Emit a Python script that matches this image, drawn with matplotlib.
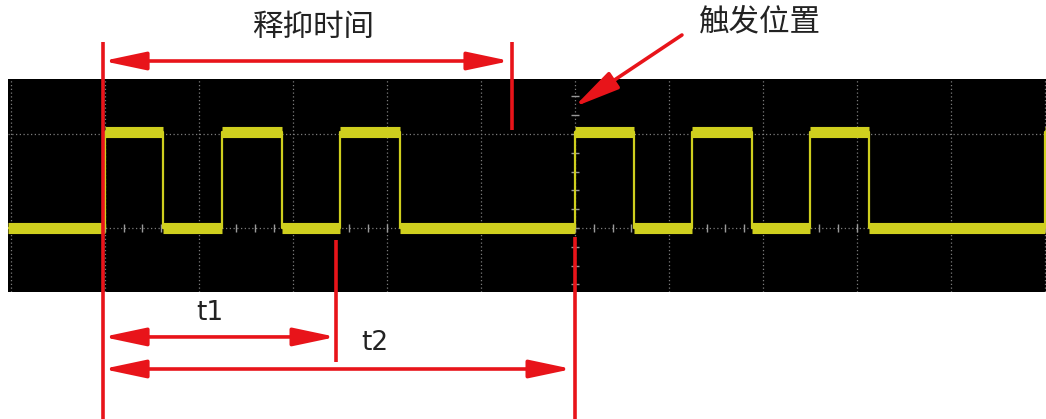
import numpy as np
import matplotlib
matplotlib.use("Agg")
import matplotlib.pyplot as plt
import matplotlib.transforms as mtransforms
from matplotlib.patches import FancyArrowPatch

plt.rcParams['font.family'] = ['Noto Sans CJK SC', 'DejaVu Sans']

# signal edges, in horizontal divisions (trigger at 0)
rise_t = [-5.0, -3.75, -2.5, 0.0, 1.25, 2.5, 5.0]
fall_t = [-4.38, -3.12, -1.86, 0.63, 1.88, 3.13]
low_level = 0.0
high_level = 1.02
t_start, t_end = -6.03, 5.01

# annotation positions (divisions)
holdoff_start = -5.02
holdoff_end = -0.67
trigger_t = 0.0
t1_end = -2.54
t2_end = trigger_t

YELLOW = '#cfcf1e'
RED = '#e8141a'
GRID = '#7c7c7c'
TEXT = '#222222'

fig = plt.figure(figsize=(10.46, 4.19), dpi=100)
ax = fig.add_axes([8 / 1046, 127 / 419, 1038 / 1046, 213 / 419])
ax.set_facecolor('black')
for s in ax.spines.values():
    s.set_visible(False)
ax.set_xticks([])
ax.set_yticks([])
ax.set_xlim(t_start, t_end)
ax.set_ylim(-0.681, 1.585)

# grid
for gx in range(-6, 6):
    ax.axvline(gx, color=GRID, lw=0.9, ls=(0, (1, 2)), zorder=1)
for gy in [0, 1]:
    ax.axhline(gy, color=GRID, lw=0.9, ls=(0, (1, 2)), zorder=1)
# centre axis ticks
minor = np.arange(-6, 5.01, 0.2)
ax.vlines(minor, -0.04, 0.04, color='#9a9a9a', lw=1, zorder=1)
vminor = np.arange(-0.6, 1.6, 0.2)
ax.hlines(vminor, -0.04, 0.04, color='#9a9a9a', lw=1, zorder=1)

# build the step signal
edges = sorted([(t, high_level) for t in rise_t] + [(t, low_level) for t in fall_t])
xs, ys = [t_start], [low_level]
seg_start, seg_level = t_start, low_level
seg_x0, seg_x1, seg_y = [], [], []
for t, lv in edges:
    xs += [t, t]
    ys += [seg_level, lv]
    seg_x0.append(seg_start)
    seg_x1.append(t)
    seg_y.append(seg_level)
    seg_start, seg_level = t, lv
xs.append(t_end)
ys.append(seg_level)
seg_x0.append(seg_start)
seg_x1.append(t_end)
seg_y.append(seg_level)

ax.plot(xs, ys, color=YELLOW, lw=1.6, zorder=3)
ax.hlines(seg_y, seg_x0, seg_x1, color=YELLOW, lw=8, capstyle='butt', zorder=3)

# red annotations
trans = mtransforms.blended_transform_factory(ax.transData, ax.transAxes)


def vline(x, y0, y1):
    ax.plot([x, x], [y0, y1], color=RED, lw=2.6, transform=trans,
            clip_on=False, solid_capstyle='butt', zorder=5)


def arrow(p0, p1, style):
    a = FancyArrowPatch(p0, p1, transform=trans, arrowstyle=style,
                        color=RED, lw=2.6, shrinkA=0, shrinkB=0,
                        clip_on=False, zorder=6)
    ax.add_patch(a)


head = 'head_length=26,head_width=5.5'
vline(holdoff_start, 1.174, -0.6)
vline(holdoff_end, 1.174, 0.76)
vline(trigger_t, 0.258, -0.6)
vline(t1_end, 0.244, -0.329)

arrow((holdoff_start, 1.0845), (holdoff_end - 0.02, 1.0845), '<|-|>,' + head)
arrow((holdoff_start, -0.211), (t1_end, -0.211), '<|-|>,' + head)
arrow((holdoff_start, -0.3615), (t2_end - 0.03, -0.3615), '<|-|>,' + head)
arrow((1.138, 1.2066), (trigger_t - 0.01, 0.8685), '-|>,head_length=28,head_width=6')

ax.text(-2.79, 1.244, '释抑时间', transform=trans, fontsize=22, color=TEXT,
        ha='center', va='center')
ax.text(1.96, 1.268, '触发位置', transform=trans, fontsize=22, color=TEXT,
        ha='center', va='center')
ax.text(-3.88, -0.099, 't1', transform=trans, fontsize=19, color=TEXT,
        ha='center', va='center', family='DejaVu Sans')
ax.text(-2.13, -0.239, 't2', transform=trans, fontsize=19, color=TEXT,
        ha='center', va='center', family='DejaVu Sans')

fig.savefig('out.png', dpi=100)
